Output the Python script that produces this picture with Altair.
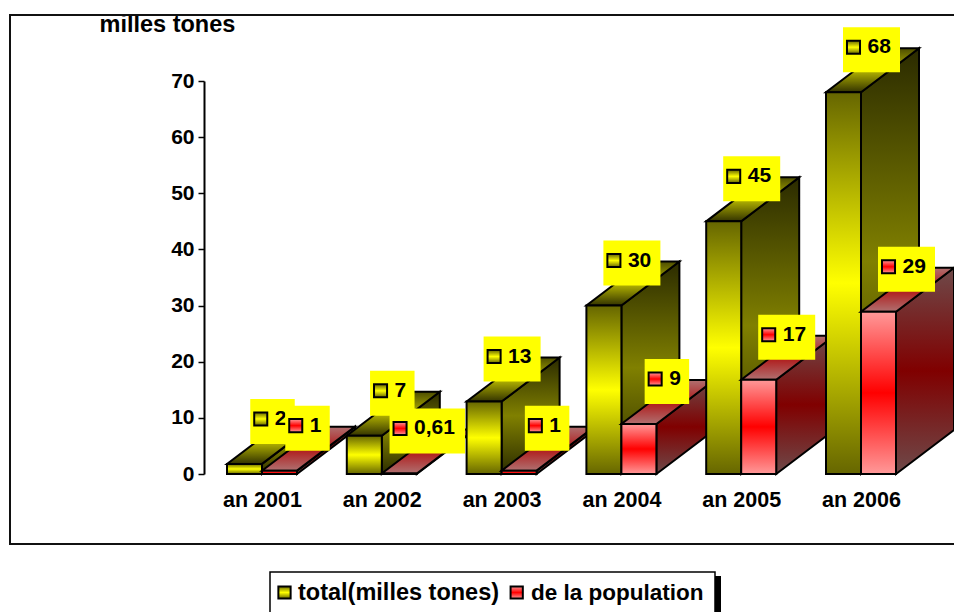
import json
import altair as alt
import pandas as pd

FONT = "Liberation Sans"
categories = ["an 2001", "an 2002", "an 2003", "an 2004", "an 2005", "an 2006"]
total = [1.8, 6.8, 12.9, 30, 45, 68]
population = [0.6, 0.1, 0.6, 8.9, 16.8, 28.9]
total_labels = ["2", "7", "13", "30", "45", "68"]
population_labels = ["1", "0,61", "1", "9", "17", "29"]
series_names = ["total(milles tones)", "de la population"]
axis_title = "milles tones"
y_ticks = [0, 10, 20, 30, 40, 50, 60, 70]

PITCH = 119.8
PX = 749 / PITCH
X0 = -58 / PITCH
DX = 58 / PITCH
DY = 44 / (393 / 70)
HALF = 35 / PITCH
xs = alt.Scale(domain=[X0, X0 + PX], nice=False, zero=False)
ys = alt.Scale(domain=[0, 70], nice=False, zero=False)


def grad(end, mid, end2=None):
    return {
        "gradient": "linear", "x1": 0, "y1": 0, "x2": 0, "y2": 1,
        "stops": [
            {"offset": 0, "color": end},
            {"offset": 0.5, "color": mid},
            {"offset": 1, "color": end2 or end},
        ],
    }


STYLES = [
    dict(front=grad("#666600", "#ffff00"), side=grad("#2b2b00", "#808000"), top=grad("#4d4d00", "#b8b800", "#333300")),
    dict(front=grad("#ff9999", "#ff0000"), side=grad("#6e4a4a", "#800000"), top=grad("#b07070", "#b01818", "#b07070")),
]
BLACK = "#000000"
SW = 2


def polygon(points, fill):
    df = pd.DataFrame({"x": [p[0] for p in points], "y": [p[1] for p in points], "o": list(range(len(points)))})
    return alt.Chart(df).mark_line(
        fill=fill, stroke=BLACK, strokeWidth=SW, interpolate="linear-closed", strokeJoin="miter", clip=False
    ).encode(
        x=alt.X("x:Q", scale=xs, axis=None),
        y=alt.Y("y:Q", scale=ys, axis=None),
        order=alt.Order("o:Q"),
    )


def bar(x0, x1, v, style):
    front = alt.Chart(pd.DataFrame({"a": [x0], "b": [x1], "v0": [0], "v": [v]})).mark_rect(
        fill=style["front"], stroke=BLACK, strokeWidth=SW
    ).encode(
        x=alt.X("a:Q", scale=xs, axis=None), x2="b:Q",
        y=alt.Y("v0:Q", scale=ys, axis=None), y2="v:Q",
    )
    side = polygon([(x1, 0), (x1 + DX, DY), (x1 + DX, v + DY), (x1, v)], style["side"])
    top = polygon([(x0, v), (x1, v), (x1 + DX, v + DY), (x0 + DX, v + DY)], style["top"])
    return [side, top, front]


def label(xc, v, text, style):
    digits = sum(c.isdigit() for c in text)
    width = 32 + 12.5 * digits + (6 if "," in text else 0)
    lx = xc + 28 / PITCH
    ly = v + 42.5 / (393 / 70)
    d = pd.DataFrame({"x": [lx], "y": [ly], "t": [text]})
    base = alt.Chart(d)
    enc = dict(x=alt.X("x:Q", scale=xs, axis=None), y=alt.Y("y:Q", scale=ys, axis=None))
    box = base.mark_rect(fill="#ffff00", width=width, height=45).encode(**enc)
    key = base.mark_square(
        size=170, fill=style["front"], stroke=BLACK, strokeWidth=SW, opacity=1,
        xOffset=-width / 2 + 10.5, yOffset=-2.5,
    ).encode(**enc)
    txt = base.mark_text(
        font=FONT, fontWeight="bold", fontSize=21, align="left", baseline="middle",
        color=BLACK, dx=-width / 2 + 24.5, dy=-2.5,
    ).encode(text="t:N", **enc)
    return [box, key, txt]


layers = []

# outer frame, open on the right as in the reference
frame = alt.Chart(pd.DataFrame({"a": [0], "v": [0]})).mark_rect(
    fill="transparent", stroke="#111111", strokeWidth=2
).encode(
    x=alt.value(-194), x2=alt.value(790), y=alt.value(-66), y2=alt.value(463),
)
layers.append(frame)

axes = alt.Chart(pd.DataFrame({"x": [0, 5], "y": [0, 70]})).mark_point(opacity=0).encode(
    x=alt.X("x:Q", scale=xs, axis=alt.Axis(
        values=list(range(len(categories))), title=None, grid=False, domain=False, ticks=False,
        labelExpr=json.dumps(categories) + "[datum.value]",
        labelFont=FONT, labelFontWeight="bold", labelFontSize=21.5, labelColor=BLACK,
        labelPadding=15, labelOverlap=False, labelFlush=False,
    )),
    y=alt.Y("y:Q", scale=ys, axis=alt.Axis(
        values=y_ticks, title=axis_title, titleAngle=0, titleX=-105, titleY=-50,
        titleAlign="left", titleBaseline="alphabetic", titleFont=FONT, titleFontWeight="bold",
        titleFontSize=23.5, titleColor=BLACK,
        grid=False, domain=True, domainColor=BLACK, domainWidth=2, ticks=True, tickColor=BLACK,
        tickWidth=1.5, tickSize=6, labelFont=FONT, labelFontWeight="bold", labelFontSize=21,
        labelColor=BLACK, labelPadding=4, format="d",
    )),
)
layers.append(axes)

for i in range(len(categories)):
    layers += bar(i - HALF, i, total[i], STYLES[0])
    layers += bar(i, i + HALF, population[i], STYLES[1])

for i in range(len(categories)):
    layers += label(i - HALF / 2, total[i], total_labels[i], STYLES[0])
    layers += label(i + HALF / 2, population[i], population_labels[i], STYLES[1])

# legend panel (image x 270..715, y 572..)
shadow = alt.Chart(pd.DataFrame({"a": [0]})).mark_rect(fill=BLACK).encode(
    x=alt.value(511), x2=alt.value(517), y=alt.value(495), y2=alt.value(540)
)
panel = alt.Chart(pd.DataFrame({"a": [0]})).mark_rect(fill="#ffffff", stroke=BLACK, strokeWidth=1.5).encode(
    x=alt.value(66), x2=alt.value(511), y=alt.value(491), y2=alt.value(545)
)
layers += [shadow, panel]
for name, style, kx, tx, fs in zip(series_names, STYLES, [80.5, 312.7], [94, 327], [23.5, 22.5]):
    d = alt.Chart(pd.DataFrame({"t": [name]}))
    layers.append(d.mark_square(size=150, fill=style["front"], stroke=BLACK, strokeWidth=SW, opacity=1).encode(
        x=alt.value(kx), y=alt.value(511.5)))
    layers.append(d.mark_text(font=FONT, fontWeight="bold", fontSize=fs, align="left", baseline="alphabetic", color=BLACK).encode(
        x=alt.value(tx), y=alt.value(519), text="t:N"))

chart = alt.layer(*layers).resolve_axis(x="independent", y="independent").properties(
    width=749, height=393,
    padding={"left": 196, "top": 73, "right": 1, "bottom": 138},
    autosize=alt.AutoSizeParams(type="none"),
    background="#ffffff",
).configure_view(strokeWidth=0)

chart.save("out.html", embed_options={"renderer": "svg", "actions": False})
